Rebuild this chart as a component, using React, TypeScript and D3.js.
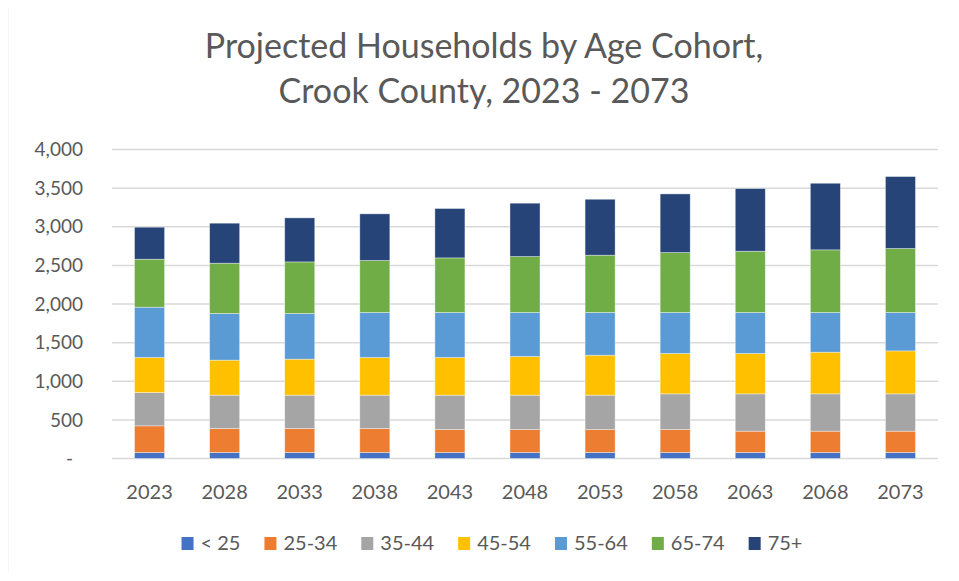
import React, { useEffect, useRef } from "react";
import * as d3 from "d3";

const years = ["2023", "2028", "2033", "2038", "2043", "2048", "2053", "2058", "2063", "2068", "2073"];
const cohorts = ["< 25", "25-34", "35-44", "45-54", "55-64", "65-74", "75+"];
const colors = ["#4472c4", "#ed7d31", "#a5a5a5", "#ffc000", "#5b9bd5", "#70ad47", "#264478"];

// households per cohort, one value per year
const under25 = [78, 78, 78, 78, 78, 78, 78, 78, 78, 78, 78];
const age25to34 = [345, 310, 310, 310, 297, 297, 297, 297, 276, 276, 276];
const age35to44 = [431, 432, 432, 432, 445, 445, 445, 462, 483, 483, 483];
const age45to54 = [453, 453, 466, 487, 487, 500, 517, 522, 522, 539, 556];
const age55to64 = [652, 604, 591, 583, 583, 570, 553, 531, 531, 514, 497];
const age65to74 = [621, 651, 668, 673, 707, 724, 742, 776, 793, 811, 828];
const age75plus = [414, 518, 570, 604, 639, 691, 724, 759, 811, 862, 932];

const yTicks = [0, 500, 1000, 1500, 2000, 2500, 3000, 3500, 4000];
const titleLines = ["Projected Households by Age Cohort,", "Crook County, 2023 - 2073"];

const W = 959;
const H = 581;
const FONT = "Lato, 'Open Sans', sans-serif";
const TEXT = "#595959";

export default function App() {
  const ref = useRef<SVGSVGElement>(null);

  useEffect(() => {
    const svg = d3.select(ref.current);
    svg.selectAll("*").remove();

    const series = [under25, age25to34, age35to44, age45to54, age55to64, age65to74, age75plus];
    const rows = years.map((y, i) => {
      const r: any = { year: y };
      cohorts.forEach((c, j) => (r[c] = series[j][i]));
      return r;
    });
    const stacked = d3.stack().keys(cohorts)(rows);

    const left = 112, right = 938, top = 149.5, bottom = 458.5;
    const x = d3.scaleBand().domain(years).range([left, right]).paddingInner(0.6).paddingOuter(0.3);
    const y = d3.scaleLinear().domain([0, 4000]).range([bottom, top]);

    // chart border
    svg.append("rect")
      .attr("x", 7.5).attr("y", 5.5).attr("width", 1000).attr("height", 573)
      .attr("fill", "white").attr("stroke", "#d9d9d9").attr("stroke-width", 1.5);

    svg.append("g")
      .selectAll("text")
      .data(titleLines)
      .join("text")
        .attr("x", 484).attr("y", (d, i) => 58 + i * 45)
        .attr("text-anchor", "middle")
        .attr("font-family", FONT).attr("font-size", 34).attr("fill", TEXT)
        .text(d => d);

    // gridlines
    svg.append("g")
      .selectAll("line")
      .data(yTicks)
      .join("line")
        .attr("x1", left).attr("x2", right)
        .attr("y1", d => y(d)).attr("y2", d => y(d))
        .attr("stroke", "#d9d9d9").attr("stroke-width", 1.5);

    svg.append("g")
      .selectAll("text")
      .data(yTicks)
      .join("text")
        .attr("x", d => (d === 0 ? 73 : 83))
        .attr("y", d => y(d))
        .attr("dy", "0.35em")
        .attr("text-anchor", "end")
        .attr("font-family", FONT).attr("font-size", 19).attr("fill", TEXT)
        .text(d => (d === 0 ? "-" : d3.format(",")(d)));

    svg.append("g")
      .selectAll("g")
      .data(stacked)
      .join("g")
        .attr("fill", (d, i) => colors[i])
      .selectAll("rect")
      .data(d => d)
      .join("rect")
        .attr("x", d => x(d.data.year as string)!)
        .attr("width", x.bandwidth())
        .attr("y", d => y(d[1]))
        .attr("height", d => y(d[0]) - y(d[1]))
        .attr("stroke", "white").attr("stroke-opacity", 0.5).attr("stroke-width", 0.75);

    svg.append("g")
      .selectAll("text")
      .data(years)
      .join("text")
        .attr("x", d => x(d)! + x.bandwidth() / 2)
        .attr("y", 499)
        .attr("text-anchor", "middle")
        .attr("font-family", FONT).attr("font-size", 20).attr("fill", TEXT)
        .text(d => d);

    // legend laid out by measured text widths, centred
    const legend = svg.append("g");
    const items = legend.selectAll("g").data(cohorts).join("g");
    items.append("rect").attr("width", 12).attr("height", 13).attr("y", -13)
      .attr("fill", (d, i) => colors[i]);
    const labels = items.append("text").attr("x", 19).attr("y", 0)
      .attr("font-family", FONT).attr("font-size", 20).attr("fill", TEXT)
      .text(d => d);
    const widths = labels.nodes().map(n => (n as SVGTextElement).getComputedTextLength() + 19);
    const gap = 24;
    const total = d3.sum(widths) + gap * (widths.length - 1);
    let cx = 492 - total / 2;
    items.attr("transform", (d, i) => {
      const t = `translate(${cx},550)`;
      cx += widths[i] + gap;
      return t;
    });
  }, []);

  return <svg ref={ref} width={W} height={H} style={{ display: "block", margin: "-8px" }} />;
}
